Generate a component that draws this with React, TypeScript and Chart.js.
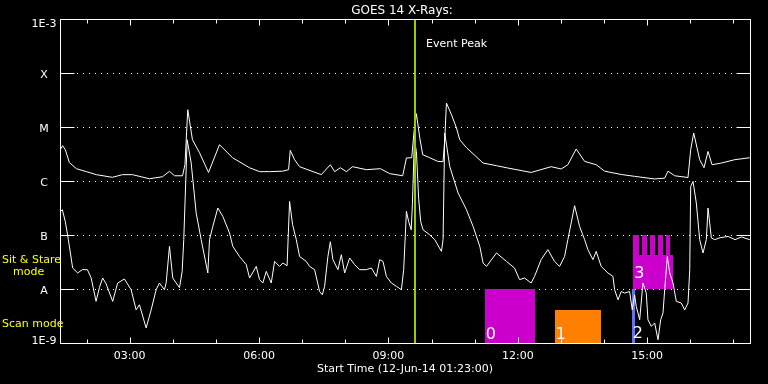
import { useEffect, useRef } from 'react';
import { Chart, registerables } from 'chart.js';

Chart.register(...registerables);

// ---- time axis (decimal hours, 12-Jun-14) ----
const startHour = 1 + 23 / 60;
const endHour = startHour + 16;
const xTickHours = [2, 3, 4, 5, 6, 7, 8, 9, 10, 11, 12, 13, 14, 15, 16, 17];
const xLabelHours = [3, 6, 9, 12, 15];
const xLabelText = ['03:00', '06:00', '09:00', '12:00', '15:00'];

// ---- flux axis ----
const yTickValues = [1e-9, 1e-8, 1e-7, 1e-6, 1e-5, 1e-4, 1e-3];
const yTickLabels = ['1E-9', 'A', 'B', 'C', 'M', 'X', '1E-3'];
const gridValues = [1e-8, 1e-7, 1e-6, 1e-5, 1e-4];

// ---- long channel (1-8 A) ----
const longHours = [
  1.391, 1.445, 1.507, 1.6, 1.763, 1.995, 2.227, 2.598, 2.831, 3.063,
  3.457, 3.759, 3.922, 4.038, 4.224, 4.281, 4.346, 4.455, 4.618, 4.827,
  5.082, 5.384, 5.778, 6.011, 6.243, 6.545, 6.684, 6.723, 6.823, 6.939,
  7.443, 7.652, 7.752, 7.884, 8.023, 8.169, 8.487, 8.813, 9.028, 9.33,
  9.416, 9.539, 9.597, 9.648, 9.726, 9.794, 9.957, 10.142, 10.266, 10.305,
  10.344, 10.461, 10.577, 10.653, 10.809, 11.194, 11.505, 11.767, 12.308, 12.773,
  13.005, 13.16, 13.353, 13.548, 13.817, 14.012, 14.397, 14.708, 15.173, 15.405,
  15.481, 15.637, 15.946, 16.008, 16.078, 16.217, 16.317, 16.41, 16.503, 16.719,
  17.03, 17.378,
];
const longFlux = [
  3.8e-6, 4.5e-6, 3.8e-6, 2.2e-6, 1.69e-6, 1.49e-6, 1.31e-6, 1.17e-6, 1.31e-6, 1.31e-6,
  1.1e-6, 1.2e-6, 1.51e-6, 1.25e-6, 1.25e-6, 2.0e-6, 2.09e-5, 5.8e-6, 3.34e-6, 1.44e-6,
  4.7e-6, 2.7e-6, 1.76e-6, 1.49e-6, 1.49e-6, 1.52e-6, 1.62e-6, 3.69e-6, 2.48e-6, 1.84e-6,
  1.31e-6, 2.0e-6, 1.49e-6, 1.76e-6, 1.49e-6, 1.84e-6, 1.62e-6, 1.69e-6, 1.37e-6, 1.25e-6,
  2.67e-6, 2.7e-6, 8.9e-6, 1.76e-5, 6.3e-6, 3.07e-6, 2.7e-6, 2.31e-6, 2.28e-6, 5.8e-6,
  2.78e-5, 1.69e-5, 9.6e-6, 5.8e-6, 4.14e-6, 2.15e-6, 1.92e-6, 1.74e-6, 1.44e-6, 1.84e-6,
  1.67e-6, 2.0e-6, 3.92e-6, 2.31e-6, 2.0e-6, 1.52e-6, 1.32e-6, 1.22e-6, 1.09e-6, 1.13e-6,
  1.52e-6, 1.25e-6, 1.16e-6, 3.8e-6, 7.74e-6, 2.48e-6, 1.76e-6, 3.53e-6, 2.0e-6, 2.15e-6,
  2.48e-6, 2.7e-6,
];

// ---- short channel (0.5-4 A) ----
const shortHours = [
  1.391, 1.438, 1.507, 1.577, 1.677, 1.793, 1.902, 2.018, 2.104, 2.22,
  2.297, 2.373, 2.452, 2.605, 2.721, 2.877, 3.032, 3.149, 3.225, 3.381,
  3.497, 3.613, 3.689, 3.805, 3.845, 3.922, 3.998, 4.077, 4.154, 4.216,
  4.253, 4.332, 4.425, 4.541, 4.657, 4.811, 4.85, 4.927, 5.043, 5.159,
  5.314, 5.391, 5.546, 5.702, 5.779, 5.934, 6.011, 6.087, 6.166, 6.282,
  6.359, 6.475, 6.552, 6.649, 6.707, 6.777, 6.863, 6.939, 7.095, 7.171,
  7.287, 7.403, 7.466, 7.519, 7.596, 7.652, 7.712, 7.828, 7.907, 7.984,
  8.1, 8.216, 8.333, 8.488, 8.604, 8.72, 8.796, 8.873, 8.952, 9.068,
  9.184, 9.3, 9.353, 9.416, 9.469, 9.527, 9.555, 9.601, 9.648, 9.702,
  9.748, 9.801, 9.957, 10.073, 10.228, 10.266, 10.305, 10.421, 10.614, 10.809,
  10.962, 11.118, 11.194, 11.273, 11.505, 11.737, 11.923, 12.039, 12.155, 12.308,
  12.387, 12.54, 12.696, 12.851, 12.968, 13.084, 13.16, 13.316, 13.432, 13.548,
  13.625, 13.741, 13.817, 13.933, 14.089, 14.205, 14.244, 14.323, 14.397, 14.476,
  14.592, 14.653, 14.708, 14.746, 14.825, 14.901, 14.978, 15.017, 15.094, 15.173,
  15.25, 15.312, 15.366, 15.405, 15.466, 15.522, 15.599, 15.674, 15.79, 15.869,
  15.946, 15.986, 16.008, 16.062, 16.139, 16.217, 16.294, 16.371, 16.41, 16.487,
  16.566, 16.689, 16.875, 17.037, 17.184, 17.378,
];
const shortFlux = [
  2.7e-7, 2.94e-7, 1.76e-7, 8.2e-8, 2.45e-8, 1.98e-8, 2.28e-8, 2.28e-8, 1.62e-8, 5.9e-9,
  1.06e-8, 1.6e-8, 1.25e-8, 5.9e-9, 1.29e-8, 1.53e-8, 9.7e-9, 4.1e-9, 5.1e-9, 1.9e-9,
  4.1e-9, 9.7e-9, 1.29e-8, 9.7e-9, 1.3e-8, 6.15e-8, 1.6e-8, 1.29e-8, 1.06e-8, 2.12e-8,
  8.2e-8, 5.8e-6, 2.15e-6, 2.55e-7, 8.2e-8, 1.98e-8, 8.2e-8, 1.44e-7, 3.16e-7, 2.21e-7,
  1.09e-7, 6.15e-8, 4.0e-8, 2.82e-8, 1.6e-8, 2.62e-8, 1.49e-8, 1.29e-8, 2.12e-8, 1.29e-8,
  3.24e-8, 2.62e-8, 3.03e-8, 2.7e-8, 4.19e-7, 1.55e-7, 8.2e-8, 4.0e-8, 3.24e-8, 2.62e-8,
  2.28e-8, 9.0e-9, 7.8e-9, 1.12e-8, 4.0e-8, 7.5e-8, 3.49e-8, 2.28e-8, 4.32e-8, 1.98e-8,
  3.75e-8, 2.82e-8, 2.28e-8, 2.28e-8, 2.45e-8, 1.71e-8, 3.49e-8, 3.24e-8, 1.71e-8, 1.29e-8,
  1.12e-8, 9.7e-9, 2.28e-8, 2.74e-7, 1.76e-7, 1.25e-7, 3.64e-7, 5.8e-6, 3.49e-6, 4.5e-7,
  1.76e-7, 1.25e-7, 1.01e-7, 8.2e-8, 4.97e-8, 8.2e-8, 7.74e-6, 1.86e-6, 6.0e-7, 2.94e-7,
  1.44e-7, 6.15e-8, 3.03e-8, 2.62e-8, 4.64e-8, 3.24e-8, 2.45e-8, 1.49e-8, 1.6e-8, 1.29e-8,
  1.71e-8, 3.49e-8, 5.35e-8, 3.24e-8, 2.62e-8, 4.0e-8, 8.2e-8, 3.49e-7, 1.44e-7, 8.2e-8,
  5.35e-8, 3.49e-8, 4.97e-8, 2.62e-8, 1.98e-8, 1.71e-8, 9.7e-9, 6.3e-9, 9.0e-9, 8.4e-9,
  9.0e-9, 4.1e-9, 7.8e-9, 4.76e-9, 2.7e-9, 1.29e-8, 8.4e-9, 2.7e-9, 2.03e-9, 2.35e-9,
  1.15e-9, 2.7e-9, 3.6e-9, 9.7e-9, 4.0e-8, 1.98e-8, 1.29e-8, 5.9e-9, 5.5e-9, 4.1e-9,
  5.5e-9, 2.28e-8, 7.94e-7, 9.8e-7, 3.9e-7, 8.2e-8, 4.64e-8, 8.2e-8, 3.16e-7, 8.8e-8,
  8.2e-8, 8.9e-8, 9.4e-8, 8.2e-8, 9.2e-8, 8.2e-8,
];

// ---- event / observing modes ----
const eventPeakHour = 9.616;
const modeLabels = ['0', '1', '2', '3'];
const modeStart = [11.234, 12.858, 14.639, 14.676];
const modeEnd = [12.394, 13.926, 14.716, 15.605];
const modeLow = [1e-9, 1e-9, 1e-9, 1e-8];
const modeHigh = [1e-8, 4.1e-9, 1e-8, 4.2e-8];
const stripeStart = [14.676, 14.885, 15.071, 15.257, 15.443];
const stripeEnd = [14.815, 15.001, 15.187, 15.373, 15.528];
const stripeLow = 4.2e-8;
const stripeHigh = 1e-7;

// styles
const modeColors = ['#cc00cc', '#ff8000', '#6070ff', '#cc00cc'];
const modeLabelLift = [4, 4, 5, 11];
const FONT = '"DejaVu Sans", sans-serif';

const overlay = {
  id: 'goesOverlay',
  beforeDraw(chart: any) {
    const ctx = chart.ctx;
    ctx.save();
    ctx.fillStyle = '#000';
    ctx.fillRect(0, 0, chart.width, chart.height);
    ctx.restore();
  },
  beforeDatasetsDraw(chart: any) {
    const { ctx, chartArea: a } = chart;
    const xs = chart.scales.x;
    const ys = chart.scales.y;
    ctx.save();
    // dotted grid
    ctx.strokeStyle = '#fff';
    ctx.lineWidth = 1;
    ctx.setLineDash([1, 5]);
    for (const v of gridValues) {
      const py = Math.round(ys.getPixelForValue(v)) + 0.5;
      ctx.beginPath();
      ctx.moveTo(a.left + 17, py);
      ctx.lineTo(a.right - 14, py);
      ctx.stroke();
    }
    ctx.setLineDash([]);
    // mode rectangles
    for (let i = 0; i < modeStart.length; i++) {
      const x0 = Math.round(xs.getPixelForValue(modeStart[i]));
      const x1 = Math.round(xs.getPixelForValue(modeEnd[i]));
      const y0 = Math.round(ys.getPixelForValue(modeHigh[i]));
      const y1 = Math.round(ys.getPixelForValue(modeLow[i]));
      ctx.fillStyle = modeColors[i];
      ctx.fillRect(x0, y0, x1 - x0, y1 - y0);
    }
    for (let i = 0; i < stripeStart.length; i++) {
      const x0 = Math.round(xs.getPixelForValue(stripeStart[i]));
      const x1 = Math.round(xs.getPixelForValue(stripeEnd[i]));
      const y0 = Math.round(ys.getPixelForValue(stripeHigh));
      const y1 = Math.round(ys.getPixelForValue(stripeLow));
      ctx.fillStyle = modeColors[3];
      ctx.fillRect(x0, y0, x1 - x0, y1 - y0);
    }
    ctx.fillStyle = '#fff';
    ctx.font = '16px ' + FONT;
    ctx.textBaseline = 'alphabetic';
    ctx.textAlign = 'left';
    for (let i = 0; i < modeStart.length; i++) {
      const x0 = xs.getPixelForValue(modeStart[i]);
      const y1 = ys.getPixelForValue(modeLow[i]);
      ctx.fillText(modeLabels[i], x0 + 1, y1 - modeLabelLift[i]);
    }
    ctx.restore();
  },
  afterDatasetsDraw(chart: any) {
    const { ctx, chartArea: a } = chart;
    const xs = chart.scales.x;
    const ys = chart.scales.y;
    ctx.save();
    // event peak line
    const ex = xs.getPixelForValue(eventPeakHour);
    ctx.fillStyle = '#99cc00';
    ctx.fillRect(Math.round(ex) - 1, a.top, 2, a.bottom - a.top + 1);

    // frame
    ctx.strokeStyle = '#fff';
    ctx.lineWidth = 1;
    const L = Math.round(a.left) + 0.5;
    const R = Math.round(a.right) + 0.5;
    const T = Math.round(a.top) + 0.5;
    const B = Math.round(a.bottom) + 0.5;
    ctx.strokeRect(L, T, R - L, B - T);

    // y ticks
    ctx.beginPath();
    for (const v of yTickValues) {
      const py = Math.round(ys.getPixelForValue(v)) + 0.5;
      ctx.moveTo(L, py); ctx.lineTo(L + 14, py);
      ctx.moveTo(R - 14, py); ctx.lineTo(R, py);
    }
    // x ticks
    for (const h of xTickHours) {
      const px = Math.round(xs.getPixelForValue(h)) + 0.5;
      const len = h % 3 === 0 ? 6 : 4;
      ctx.moveTo(px, T); ctx.lineTo(px, T + len);
      ctx.moveTo(px, B); ctx.lineTo(px, B - len);
    }
    ctx.stroke();

    // labels
    ctx.fillStyle = '#fff';
    ctx.font = '11px ' + FONT;
    ctx.textBaseline = 'alphabetic';
    ctx.textAlign = 'center';
    yTickValues.forEach((v, i) => {
      const py = ys.getPixelForValue(v);
      const base = Math.min(Math.max(py + 4.5, a.top + 8.3), a.bottom + 1);
      ctx.fillText(yTickLabels[i], 44, base);
    });
    xLabelHours.forEach((h, i) => {
      ctx.fillText(xLabelText[i], xs.getPixelForValue(h), a.bottom + 16);
    });
    ctx.fillText('Start Time (12-Jun-14 01:23:00)', (a.left + a.right) / 2, a.bottom + 29);
    ctx.font = '12px ' + FONT;
    ctx.fillText('GOES 14 X-Rays:', (a.left + a.right) / 2 - 3, 14);

    ctx.font = '11px ' + FONT;
    ctx.textAlign = 'left';
    ctx.fillText('Event Peak', ex + 11, a.top + 28);

    ctx.fillStyle = '#ffff00';
    ctx.fillText('Sit & Stare', 2, 263);
    ctx.fillText('mode', 13, 275);
    ctx.fillText('Scan mode', 2, 327);
    ctx.restore();
  },
};

export default function App() {
  const ref = useRef<HTMLCanvasElement>(null);
  useEffect(() => {
    const canvas = ref.current;
    if (!canvas) return;
    const chart = new Chart(canvas, {
      type: 'line',
      data: {
        datasets: [
          {
            label: 'long',
            data: longHours.map((h, i) => ({ x: h, y: longFlux[i] })),
            borderColor: '#ffffff',
            borderWidth: 1,
            pointRadius: 0,
            tension: 0,
            fill: false,
          },
          {
            label: 'short',
            data: shortHours.map((h, i) => ({ x: h, y: shortFlux[i] })),
            borderColor: '#ffffff',
            borderWidth: 1,
            pointRadius: 0,
            tension: 0,
            fill: false,
          },
        ],
      },
      options: {
        animation: false,
        responsive: false,
        devicePixelRatio: 1,
        events: [],
        layout: { padding: { left: 60, right: 18, top: 19, bottom: 41 } },
        scales: {
          x: { type: 'linear', min: startHour, max: endHour, display: false },
          y: { type: 'logarithmic', min: 1e-9, max: 1e-3, display: false },
        },
        plugins: {
          legend: { display: false },
          tooltip: { enabled: false },
          title: { display: false },
        },
      },
      plugins: [overlay],
    });
    return () => chart.destroy();
  }, []);
  return (
    <div style={{ position: 'fixed', left: 0, top: 0, width: 768, height: 384, background: '#000' }}>
      <canvas ref={ref} width={768} height={384} style={{ display: 'block', width: 768, height: 384 }} />
    </div>
  );
}
